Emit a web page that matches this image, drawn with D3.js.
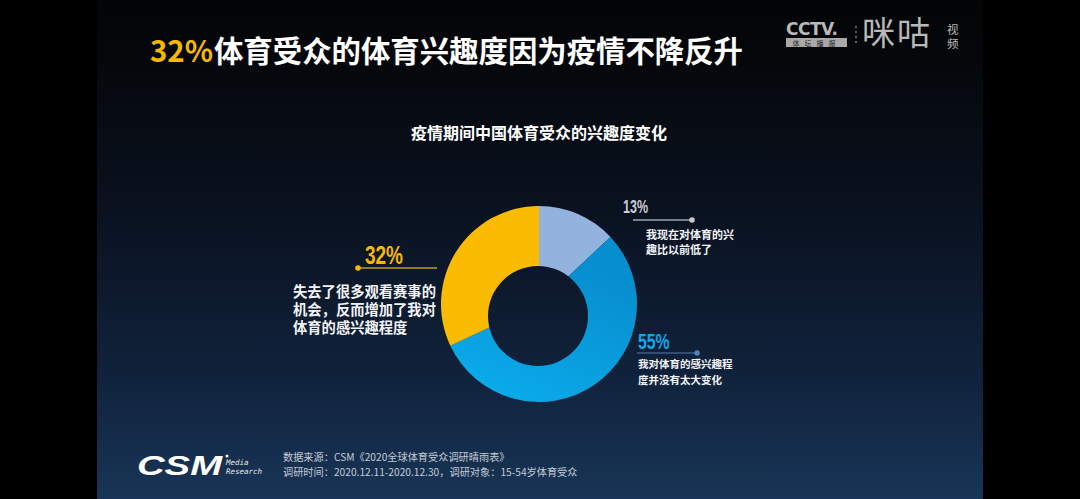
<!DOCTYPE html>
<html><head><meta charset="utf-8">
<script src="https://cdn.jsdelivr.net/npm/d3@7"></script>
<style>html,body{margin:0;padding:0;background:#000;overflow:hidden}svg{display:block}</style>
</head><body>
<script>
const categories = ["我现在对体育的兴趣比以前低了", "我对体育的感兴趣程度并没有太大变化", "失去了很多观看赛事的机会，反而增加了我对体育的感兴趣程度"];
const values = [13, 55, 32];
const valueLabels = ["13%", "55%", "32%"];
const labelLines = [["我现在对体育的兴", "趣比以前低了"], ["我对体育的感兴趣程", "度并没有太大变化"], ["失去了很多观看赛事的", "机会，反而增加了我对", "体育的感兴趣程度"]];
const titleMain = "体育受众的体育兴趣度因为疫情不降反升";
const titleHighlight = "32%";
const chartTitle = "疫情期间中国体育受众的兴趣度变化";
const sourceLines = ["数据来源：CSM《2020全球体育受众调研晴雨表》", "调研时间：2020.12.11-2020.12.30，调研对象：15-54岁体育受众"];

const W = 1080, H = 499;
const CJK = "'Noto Sans CJK SC','Noto Sans',sans-serif";
const NUM = "'Liberation Sans','Roboto',sans-serif";
const svg = d3.select("body").append("svg").attr("width", W).attr("height", H);
const defs = svg.append("defs");

const bg = defs.append("linearGradient").attr("id", "bg").attr("gradientUnits", "userSpaceOnUse")
  .attr("x1", 0).attr("y1", 0).attr("x2", 0).attr("y2", H);
[[0, "#030405"], [0.12, "#05070b"], [0.45, "#0a1322"], [0.75, "#10223b"], [1, "#183557"]]
  .forEach(([o, c]) => bg.append("stop").attr("offset", o).attr("stop-color", c));

const g1 = defs.append("linearGradient").attr("id", "gLight").attr("gradientUnits", "userSpaceOnUse")
  .attr("x1", 545).attr("y1", 208).attr("x2", 565).attr("y2", 272);
g1.append("stop").attr("offset", 0).attr("stop-color", "#93b3df");
g1.append("stop").attr("offset", 0.45).attr("stop-color", "#6e92c8");
g1.append("stop").attr("offset", 1).attr("stop-color", "#34558f");
const g2 = defs.append("linearGradient").attr("id", "gBlue").attr("gradientUnits", "userSpaceOnUse")
  .attr("x1", 620).attr("y1", 230).attr("x2", 540).attr("y2", 400);
g2.append("stop").attr("offset", 0).attr("stop-color", "#078ecf");
g2.append("stop").attr("offset", 1).attr("stop-color", "#0bb0ef");

const fills = ["url(#gLight)", "url(#gBlue)", "#fbbb00"];

// slide background
svg.append("rect").attr("x", 0).attr("y", 0).attr("width", W).attr("height", H).attr("fill", "#000");
svg.append("rect").attr("x", 97).attr("y", 0).attr("width", 886).attr("height", H).attr("fill", "url(#bg)");

// main title
const t = svg.append("text").attr("x", 150).attr("y", 62).attr("font-family", CJK).attr("font-weight", "bold").attr("font-size", 29.4);
t.append("tspan").attr("fill", "#f5b800").text(titleHighlight);
t.append("tspan").attr("fill", "#ffffff").attr("dx", 1).text(titleMain);

// logos top right
const logo = svg.append("g").attr("fill", "#b9b9b9");
logo.append("text").attr("x", 786).attr("y", 35).attr("font-family", "'DejaVu Sans','Liberation Sans',sans-serif").attr("font-weight", "bold").attr("font-size", 17).attr("letter-spacing", -0.5).text("CCTV.");
logo.append("rect").attr("x", 786).attr("y", 38).attr("width", 61).attr("height", 9).attr("fill", "#a9a9a9");
logo.append("text").attr("x", 816.5).attr("y", 46).attr("text-anchor", "middle").attr("font-family", CJK).attr("font-size", 7).attr("fill", "#222").attr("letter-spacing", 5).text("体坛播报");
[26, 31, 36, 41].forEach(y => logo.append("rect").attr("x", 855.5).attr("y", y).attr("width", 1).attr("height", 2));
logo.append("text").attr("x", 862).attr("y", 45).attr("font-family", CJK).attr("font-size", 33).attr("textLength", 68).text("咪咕");
logo.append("text").attr("x", 947).attr("y", 34).attr("font-family", CJK).attr("font-size", 11.5).text("视");
logo.append("text").attr("x", 947).attr("y", 48).attr("font-family", CJK).attr("font-size", 11.5).text("频");

// chart title
svg.append("text").attr("x", 539).attr("y", 139).attr("text-anchor", "middle").attr("font-family", CJK)
  .attr("font-weight", "bold").attr("font-size", 16).attr("fill", "#ffffff").text(chartTitle);

// donut
const cx = 539, cy = 304, R = 98;
const pie = d3.pie().sort(null).value(d => d).startAngle(0).endAngle(2 * Math.PI);
const arc = d3.arc().innerRadius(0).outerRadius(R);
const gPie = svg.append("g").attr("transform", `translate(${cx},${cy})`);
gPie.selectAll("path").data(pie(values)).join("path")
  .attr("d", arc).attr("fill", (d, i) => fills[i]);
// hole (slightly offset downward as in reference)
svg.append("circle").attr("cx", 538).attr("cy", 316).attr("r", 50).attr("fill", "url(#bg)");

// labels
const lab = [
  { num: { x: 623, y: 213, size: 19, sx: 0.66, fill: "#c9ccd3" }, line: [633, 692, 220], dot: 692, lineC: "#9ea3ad", dotC: "#c6c9d0", tx: 646, ty: [239, 254], ts: 11 },
  { num: { x: 638, y: 349, size: 22, sx: 0.72, fill: "#12a6e6" }, line: [637, 697, 353], dot: 697, lineC: "#3a5d8c", dotC: "#4f80ba", tx: 638, ty: [368, 384], ts: 10.5 },
  { num: { x: 365, y: 264, size: 25, sx: 0.76, fill: "#f7b900" }, line: [358, 437, 268], dot: 358, lineC: "#c09a25", dotC: "#f7b900", tx: 293, ty: [297, 315, 333], ts: 14.3 }
];
lab.forEach((L, i) => {
  svg.append("text").attr("transform", `translate(${L.num.x},${L.num.y}) scale(${L.num.sx},1)`)
    .attr("font-family", NUM).attr("font-weight", "bold")
    .attr("font-size", L.num.size).attr("fill", L.num.fill).text(valueLabels[i]);
  svg.append("line").attr("x1", L.line[0]).attr("x2", L.line[1]).attr("y1", L.line[2]).attr("y2", L.line[2])
    .attr("stroke", L.lineC).attr("stroke-width", 1.5);
  svg.append("circle").attr("cx", L.dot).attr("cy", L.line[2]).attr("r", 2.8).attr("fill", L.dotC);
  labelLines[i].forEach((s, j) => {
    svg.append("text").attr("x", L.tx).attr("y", L.ty[j]).attr("font-family", CJK).attr("font-weight", "bold")
      .attr("font-size", L.ts).attr("fill", "#f2f4f7").text(s);
  });
});

// footer
svg.append("text").attr("x", 137).attr("y", 475).attr("font-family", "'Liberation Sans','DejaVu Sans',sans-serif")
  .attr("font-weight", "bold").attr("font-style", "italic").attr("font-size", 27).attr("fill", "#ffffff")
  .attr("textLength", 85).attr("lengthAdjust", "spacingAndGlyphs").text("CSM");
svg.append("circle").attr("cx", 227).attr("cy", 456).attr("r", 1.5).attr("fill", "#fff");
svg.append("text").attr("x", 226).attr("y", 465).attr("font-family", "'DejaVu Sans Mono','Liberation Mono',monospace")
  .attr("font-style", "italic").attr("font-size", 7.5).attr("fill", "#e8e8e8").text("Media");
svg.append("text").attr("x", 226).attr("y", 474).attr("font-family", "'DejaVu Sans Mono','Liberation Mono',monospace")
  .attr("font-style", "italic").attr("font-size", 7.5).attr("fill", "#e8e8e8").text("Research");
sourceLines.forEach((s, j) => {
  svg.append("text").attr("x", 283).attr("y", 461 + j * 15).attr("font-family", CJK)
    .attr("font-size", 10.2).attr("fill", "#c3cad5").text(s);
});
</script>
</body></html>
